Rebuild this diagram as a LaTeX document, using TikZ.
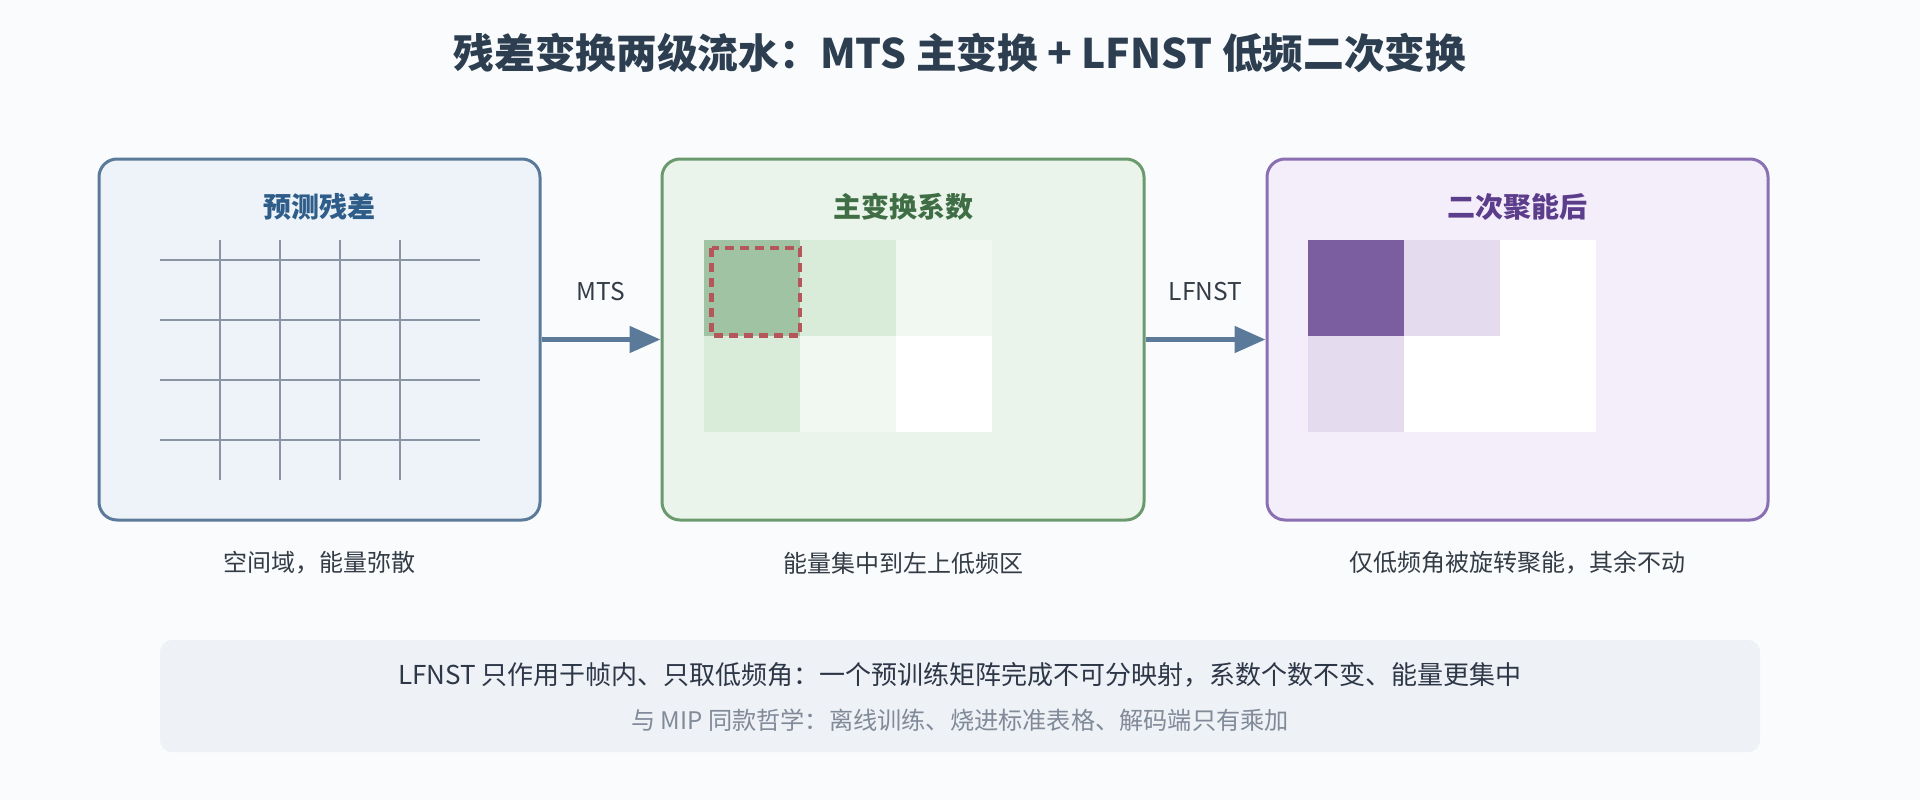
\documentclass[tikz,border=0pt]{standalone}
\usepackage{fontspec}
\setmainfont{Noto Sans CJK SC}
\usepackage{tikz}
\usetikzlibrary{arrows.meta}
\usetikzlibrary{positioning}

\definecolor{pagebg}{HTML}{F9FBFD}
\definecolor{titletext}{HTML}{2C3E50}
\definecolor{predblue}{HTML}{5B7A99}
\definecolor{predfill}{HTML}{EEF3F9}
\definecolor{predtext}{HTML}{2E5D8A}
\definecolor{primgreen}{HTML}{6B9A6F}
\definecolor{primfill}{HTML}{EAF4EA}
\definecolor{primtext}{HTML}{3F6E45}
\definecolor{secpurple}{HTML}{8A6FB3}
\definecolor{secfill}{HTML}{F4EDFA}
\definecolor{sectext}{HTML}{5B3D8C}
\definecolor{gridgray}{HTML}{8A94A3}
\definecolor{gdark}{HTML}{9FC3A3}
\definecolor{gmid}{HTML}{D9EBD9}
\definecolor{glight}{HTML}{F1F8F1}
\definecolor{pdark}{HTML}{7B5EA0}
\definecolor{plight}{HTML}{E5DBEF}
\definecolor{dashred}{HTML}{B5575A}
\definecolor{captext}{HTML}{333B45}
\definecolor{notebg}{HTML}{EEF1F5}
\definecolor{notetext}{HTML}{2D3748}
\definecolor{subtext}{HTML}{808A99}

\begin{document}
\begin{tikzpicture}[x=1pt, y=-1pt,
	panel/.style={draw, line width=3pt, rounded corners=18pt, minimum height=361pt, inner sep=0pt},
	flow/.style={draw=predblue, line width=5pt, -{Triangle[length=31pt, width=26pt]}},
	ptitle/.style={font=\fontsize{28}{32}\selectfont\bfseries, inner sep=0pt},
	caption/.style={font=\fontsize{24}{28}\selectfont, text=captext, inner sep=0pt},
	flowlabel/.style={font=\fontsize{24.5}{28}\selectfont, text=captext, inner sep=0pt}]

	% page
	\fill[pagebg] (0,0) rectangle (1920,800);
	\useasboundingbox (0,0) rectangle (1920,800);

	\node[font=\fontsize{40.7}{46}\selectfont\bfseries, text=titletext, inner sep=0pt] (title) at (960,53) {残差变换两级流水：MTS 主变换 + LFNST 低频二次变换};

	% three stages
	\node[panel, draw=predblue, fill=predfill, minimum width=441pt] (pred) at (319.5,339.5) {};
	\node[panel, draw=primgreen, fill=primfill, minimum width=482pt] (prim) at (903,339.5) {};
	\node[panel, draw=secpurple, fill=secfill, minimum width=501pt] (sec) at (1517.5,339.5) {};

	\node[ptitle, text=predtext] (predtitle) at (319.5,207) {预测残差};
	\node[ptitle, text=primtext] (primtitle) at (903,207) {主变换系数};
	\node[ptitle, text=sectext] (sectitle) at (1517.5,207) {二次聚能后};

	% residual grid
	\draw[gridgray, line width=2pt] (160,260) -- (480,260);
	\draw[gridgray, line width=2pt] (160,320) -- (480,320);
	\draw[gridgray, line width=2pt] (160,380) -- (480,380);
	\draw[gridgray, line width=2pt] (160,440) -- (480,440);
	\draw[gridgray, line width=2pt] (220,240) -- (220,480);
	\draw[gridgray, line width=2pt] (280,240) -- (280,480);
	\draw[gridgray, line width=2pt] (340,240) -- (340,480);
	\draw[gridgray, line width=2pt] (400,240) -- (400,480);

	% primary coefficients
	\fill[gdark] (704,240) rectangle (800,336);
	\fill[gmid] (800,240) rectangle (896,336);
	\fill[glight] (896,240) rectangle (992,336);
	\fill[gmid] (704,336) rectangle (800,432);
	\fill[glight] (800,336) rectangle (896,432);
	\fill[white] (896,336) rectangle (992,432);
	\draw[dashred, line width=4.5pt, dash pattern=on 9pt off 6pt] (711.5,248) rectangle (800,335.5);

	% after LFNST
	\fill[pdark] (1308,240) rectangle (1404,336);
	\fill[plight] (1404,240) rectangle (1500,336);
	\fill[white] (1500,240) rectangle (1596,336);
	\fill[plight] (1308,336) rectangle (1404,432);
	\fill[white] (1404,336) rectangle (1596,432);

	\draw[flow] (pred) -- (prim) node[midway, above=36pt, flowlabel] {MTS};
	\draw[flow] (prim) -- (sec) node[midway, above=36pt, flowlabel] {LFNST};

	\node[caption] (predcap) at (319.5,563) {空间域，能量弥散};
	\node[caption] (primcap) at (903,563) {能量集中到左上低频区};
	\node[caption] (seccap) at (1517.5,563) {仅低频角被旋转聚能，其余不动};

	% note
	\node[fill=notebg, rounded corners=12pt, minimum width=1600pt, minimum height=112pt] (note) at (960,696) {};
	\node[font=\fontsize{26}{30}\selectfont, text=notetext, inner sep=0pt] (noteline) at (960,675) {LFNST 只作用于帧内、只取低频角：一个预训练矩阵完成不可分映射，系数个数不变、能量更集中};
	\node[font=\fontsize{24.2}{28}\selectfont, text=subtext, inner sep=0pt] (notesub) at (960,720) {与 MIP 同款哲学：离线训练、烧进标准表格、解码端只有乘加};
\end{tikzpicture}
\end{document}
